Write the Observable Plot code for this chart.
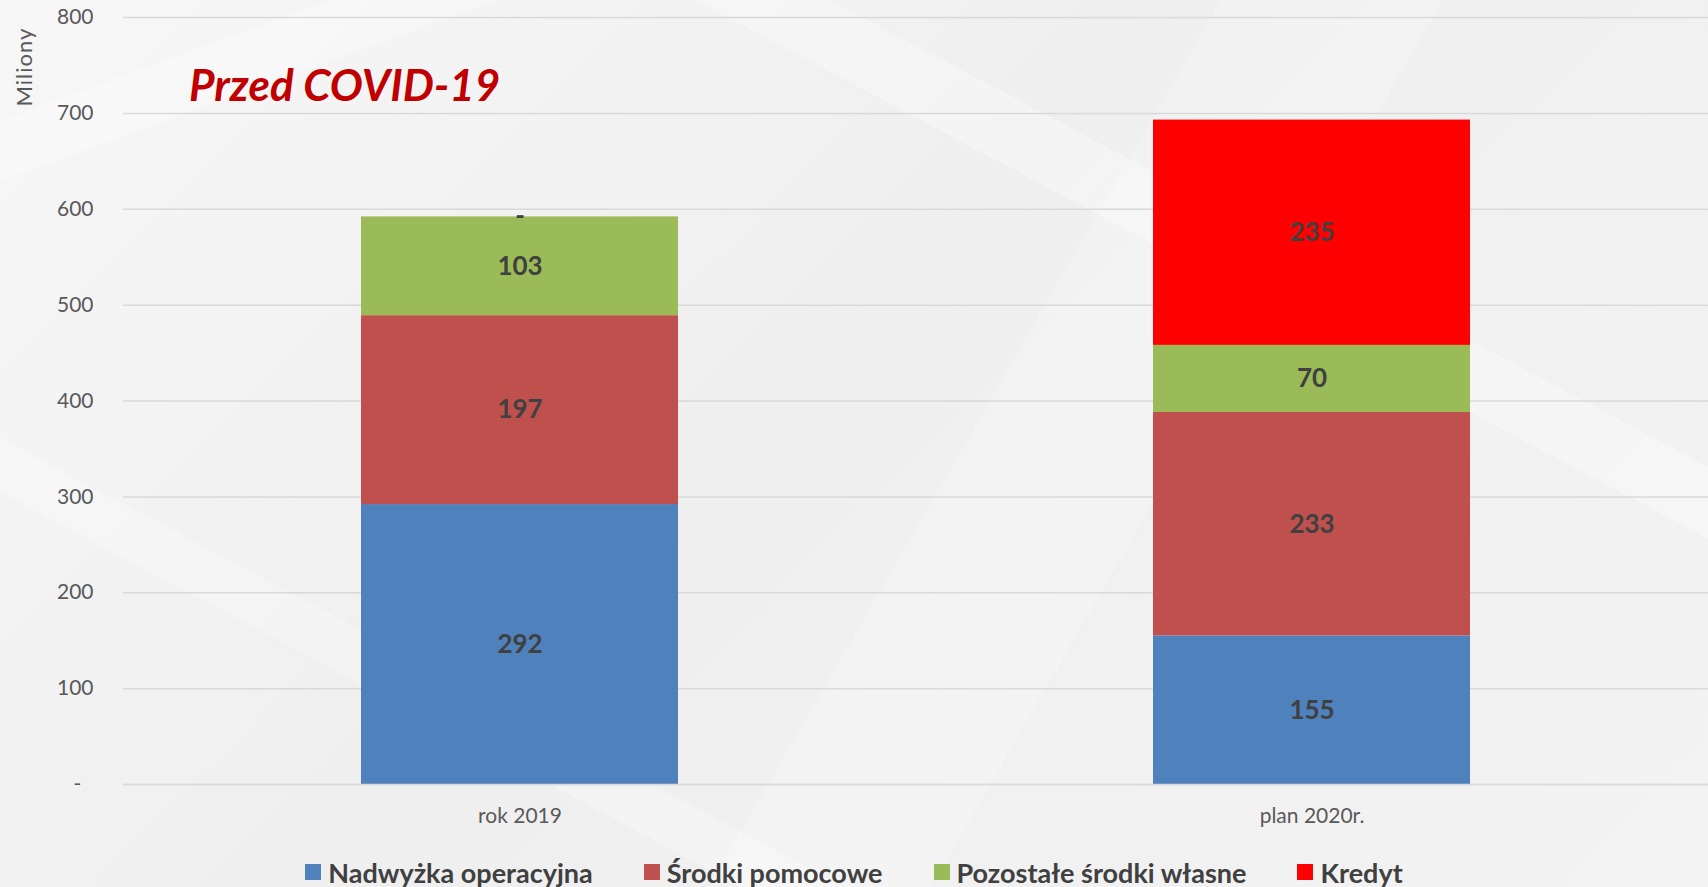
<!DOCTYPE html>
<html><head><meta charset="utf-8">
<script src="https://cdn.jsdelivr.net/npm/d3@7"></script>
<script src="https://cdn.jsdelivr.net/npm/@observablehq/plot@0.6"></script>
<style>
html,body{margin:0;padding:0;}
body{width:1708px;height:887px;overflow:hidden;background:#f2f2f2;font-family:Lato,sans-serif;position:relative;}
#bg{position:absolute;left:0;top:0;width:1708px;height:887px;
 background:
  linear-gradient(160deg, rgba(255,255,255,0) 0 8%, rgba(255,255,255,0.3) 8% 12%, rgba(255,255,255,0) 12%),
  linear-gradient(28deg, rgba(255,255,255,0) 0 22%, rgba(255,255,255,0.25) 22% 25%, rgba(255,255,255,0) 25% 70%, rgba(255,255,255,0.3) 70% 74%, rgba(255,255,255,0) 74%),
  linear-gradient(120deg, rgba(255,255,255,0) 0 55%, rgba(255,255,255,0.2) 55% 65%, rgba(255,255,255,0) 65%),
  linear-gradient(135deg, #f7f7f7 0%, #efefef 45%, #f3f3f3 100%);}
#chart{position:absolute;left:0;top:0;}
#title{position:absolute;left:189px;top:62px;font-family:Lato,sans-serif;font-style:italic;font-weight:700;font-size:44px;line-height:44px;color:#c00000;white-space:nowrap;}
#ylabel{position:absolute;left:-26px;top:55px;width:100px;height:24px;line-height:24px;text-align:center;font-size:22px;letter-spacing:1px;color:#595959;transform:rotate(-90deg);}
#legend{position:absolute;left:0;top:856px;width:1708px;height:32px;display:flex;justify-content:center;align-items:center;gap:51px;font-weight:700;font-size:27px;color:#404040;}
#legend .item{display:flex;align-items:center;gap:7px;white-space:nowrap;}
#legend .sw{width:16px;height:16px;display:inline-block;}
</style>
</head><body>
<div id="bg"></div>
<div id="chart"></div>
<div id="title">Przed COVID-19</div>
<div id="ylabel">Miliony</div>
<div id="legend"></div>
<script>
const categories = ["rok 2019", "plan 2020r."];
const seriesNames = ["Nadwyżka operacyjna", "Środki pomocowe", "Pozostałe środki własne", "Kredyt"];
const nadwyzkaOperacyjna = [292, 155];
const srodkiPomocowe = [197, 233];
const pozostaleSrodkiWlasne = [103, 70];
const kredyt = [0, 235];
const seriesColors = ["#4f81bd", "#c0504d", "#9bbb59", "#ff0000"];
const yTicks = [0, 100, 200, 300, 400, 500, 600, 700, 800];

const seriesValues = [nadwyzkaOperacyjna, srodkiPomocowe, pozostaleSrodkiWlasne, kredyt];
const rows = [];
seriesNames.forEach((s, i) => {
  categories.forEach((c, j) => rows.push({cat: c, series: s, value: seriesValues[i][j]}));
});

const fmtBar = d => d === 0 ? "-" : String(d);
const fmtAxis = d => d === 0 ? "-\u2007" : String(d);

const chart = Plot.plot({
  width: 1708, height: 845,
  marginLeft: 123, marginRight: 0, marginTop: 17, marginBottom: 61,
  style: {background: "transparent", fontFamily: "Lato, sans-serif", overflow: "visible"},
  x: {domain: categories, paddingInner: 0.6, paddingOuter: 0.3, label: null},
  y: {domain: [0, 800], label: null},
  color: {domain: seriesNames, range: seriesColors},
  marks: [
    Plot.gridY(yTicks, {stroke: "#d9d9d9", strokeOpacity: 1, strokeWidth: 1.5}),
    Plot.barY(rows, {x: "cat", y: "value", fill: "series"}),
    Plot.text(rows, Plot.stackY({x: "cat", y: "value", z: "series", text: d => fmtBar(d.value), fill: "#404040", fontSize: 26, fontWeight: "bold"})),
    Plot.ruleY([0], {stroke: "#d9d9d9", strokeWidth: 1.5}),
    Plot.axisY({ticks: yTicks, tickSize: 0, tickPadding: 30, tickFormat: fmtAxis, fontSize: 21, color: "#595959", label: null}),
    Plot.axisX({tickSize: 0, tickPadding: 24, fontSize: 21, color: "#595959", label: null})
  ]
});
document.getElementById("chart").appendChild(chart);

const legend = document.getElementById("legend");
seriesNames.forEach((s, i) => {
  const item = document.createElement("div");
  item.className = "item";
  const sw = document.createElement("span");
  sw.className = "sw";
  sw.style.background = seriesColors[i];
  const t = document.createElement("span");
  t.textContent = s;
  item.appendChild(sw); item.appendChild(t);
  legend.appendChild(item);
});
</script>
</body></html>
